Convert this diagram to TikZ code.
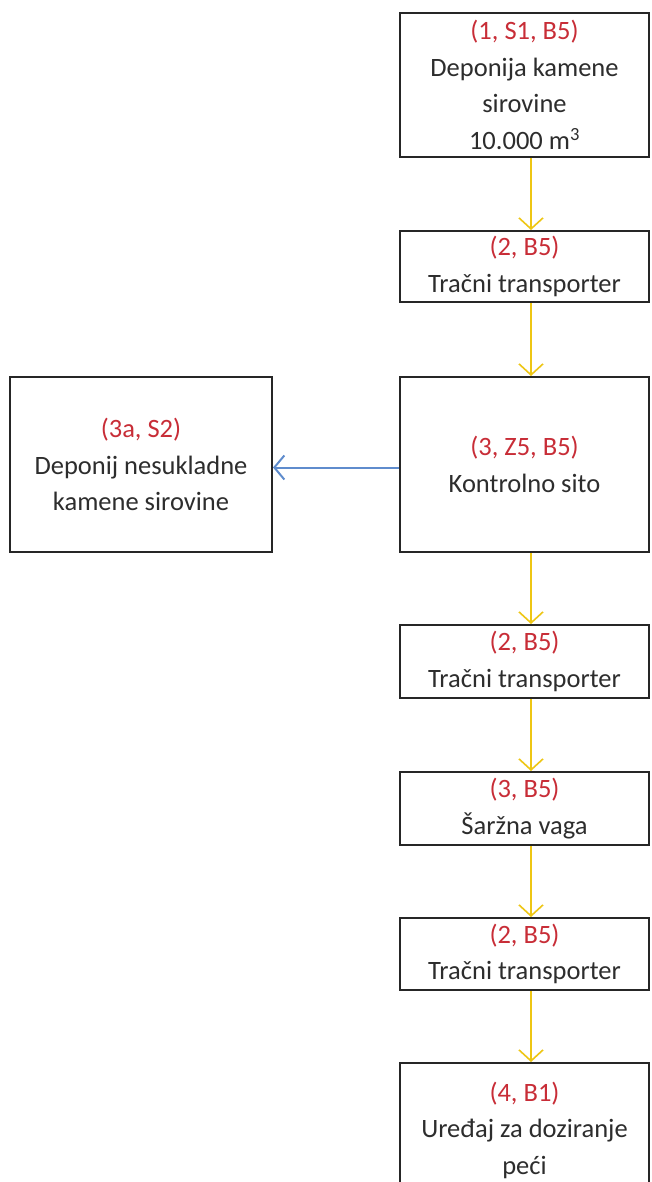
\documentclass[tikz,border=0pt]{standalone}
\usepackage{fontspec}
\setmainfont{Carlito}
\usetikzlibrary{arrows.meta}
\definecolor{lbl}{RGB}{200,45,55}
\definecolor{txt}{RGB}{45,45,45}
\definecolor{flow}{RGB}{238,198,20}
\definecolor{side}{RGB}{95,140,205}
\begin{document}
\begin{tikzpicture}[x=1pt,y=-1pt,
  box/.style={draw=black!85, line width=2pt, rectangle, inner sep=0pt,
    align=center, text=txt, font=\fontsize{26.5}{36.5}\selectfont},
  flowarrow/.style={draw=flow, line width=1.6pt,
    -{Straight Barb[length=11pt,width=24pt,line width=1.6pt]}},
  sidearrow/.style={draw=side, line width=2pt,
    -{Straight Barb[length=10pt,width=24pt,line width=2pt]}}]
\clip (0,0) rectangle (651,1182);
\fill[white] (0,0) rectangle (651,1182);
\newcommand{\lb}[1]{\textcolor{lbl}{#1}}

\node[box, minimum width=249pt, minimum height=144pt] (b1) at (524.5,85)
  {\lb{(1, S1, B5)}\\Deponija kamene\\sirovine\\10.000 m\textsuperscript{3}};
\node[box, minimum width=249pt, minimum height=71pt] (b2) at (524.5,266.5)
  {\lb{(2, B5)}\\Tračni transporter};
\node[box, minimum width=249pt, minimum height=175pt] (b3) at (524.5,464.5)
  {\lb{(3, Z5, B5)}\\Kontrolno sito};
\node[box, minimum width=262pt, minimum height=175pt] (b3a) at (141,464.5)
  {\lb{(3a, S2)}\\Deponij nesukladne\\kamene sirovine};
\node[box, minimum width=249pt, minimum height=73pt] (b4) at (524.5,661.5)
  {\lb{(2, B5)}\\Tračni transporter};
\node[box, minimum width=249pt, minimum height=73pt] (b5) at (524.5,808.5)
  {\lb{(3, B5)}\\Šaržna vaga};
\node[box, minimum width=249pt, minimum height=72pt] (b6) at (524.5,954)
  {\lb{(2, B5)}\\Tračni transporter};
\node[box, minimum width=249pt, minimum height=134pt] (b7) at (524.5,1130)
  {\lb{(4, B1)}\\Uređaj za doziranje\\peći};

\draw[flowarrow] ([xshift=6.5pt]b1.south) -- ([xshift=6.5pt]b2.north);
\draw[flowarrow] ([xshift=6.5pt]b2.south) -- ([xshift=6.5pt]b3.north);
\draw[flowarrow] ([xshift=6.5pt]b3.south) -- ([xshift=6.5pt]b4.north);
\draw[flowarrow] ([xshift=6.5pt]b4.south) -- ([xshift=6.5pt]b5.north);
\draw[flowarrow] ([xshift=6.5pt]b5.south) -- ([xshift=6.5pt]b6.north);
\draw[flowarrow] ([xshift=6.5pt]b6.south) -- ([xshift=6.5pt]b7.north);
\draw[sidearrow] ([yshift=-3pt]b3.west) -- ([yshift=-3pt]b3a.east);
\end{tikzpicture}
\end{document}
